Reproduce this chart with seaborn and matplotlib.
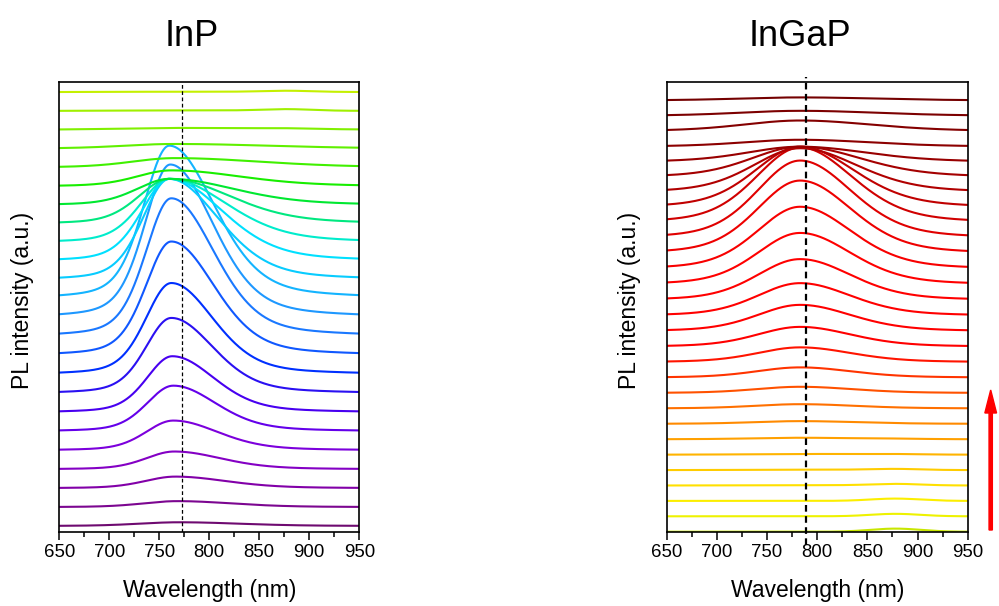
import numpy as np
import pandas as pd
import matplotlib
matplotlib.use("Agg")
import matplotlib.pyplot as plt
import seaborn as sns
from matplotlib.patches import FancyArrow
from matplotlib.transforms import IdentityTransform
from matplotlib.ticker import MultipleLocator

# ---------------------------------------------------------------
# Spectral grid (nm)
wavelength_nm = np.linspace(650, 950, 601)

# InP: 24 spectra, listed bottom to top (offset = index)
inp_amp = [0.20, 0.32, 0.62, 0.95, 1.59, 2.44, 3.00, 4.03, 4.88, 6.08, 7.37, 8.16,
           8.16, 5.40, 4.40, 3.40, 2.40, 1.40, 0.85, 0.50, 0.25, 0.10, 0.03, 0.02]
inp_center = [770, 768, 766, 765, 764, 764, 763, 762, 762, 762, 762, 761,
              760, 760, 760, 760, 760, 760, 762, 765, 765, 770, 770, 770]
inp_width_blue = [40, 34, 30, 28, 27, 26, 25, 25, 25, 25, 25, 25,
                  25, 26, 27, 28, 30, 32, 34, 42, 50, 60, 60, 60]
inp_width_red = [60, 54, 50, 46, 44, 42, 41, 41, 41, 42, 42, 42,
                 44, 48, 52, 56, 60, 64, 68, 85, 95, 95, 95, 95]
inp_side_amp = [0.00, 0.00, 0.00, 0.00, 0.00, 0.00, 0.00, 0.00, 0.00, 0.00, 0.00, 0.00,
                0.00, 0.00, 0.00, 0.00, 0.00, 0.00, 0.00, 0.00, 0.00, 0.03, 0.08, 0.06]
inp_colors = ['#6e0a70', '#7c0690', '#8200a8', '#8400c4', '#7c00dc', '#6400ea',
              '#4800f0', '#2a10f2', '#0030ff', '#1058ff', '#1a78ff', '#1e98ff',
              '#14b4ff', '#08ccff', '#00e0ff', '#00eccc', '#00e880', '#00e830',
              '#18ee00', '#40f000', '#60f000', '#80f000', '#a0f000', '#c4f000']

# InGaP: 29 spectra, listed bottom to top
ingap_amp = [0.00, 0.00, 0.00, 0.02, 0.03, 0.05, 0.10, 0.18, 0.28, 0.41, 0.67, 0.97,
             1.30, 1.73, 2.14, 2.70, 3.40, 4.10, 4.80, 5.10, 4.95, 4.00, 2.90, 2.00,
             1.00, 0.45, 0.70, 0.33, 0.20]
ingap_center = [783] * 29
ingap_width_blue = [48, 48, 48, 48, 48, 48, 47, 46, 45, 44, 43, 42,
                    42, 42, 42, 42, 42, 42, 42, 42, 43, 44, 46, 48,
                    52, 56, 56, 60, 60]
ingap_width_red = [60, 60, 60, 60, 60, 60, 58, 56, 54, 52, 50, 50,
                   50, 50, 50, 50, 50, 50, 50, 50, 51, 53, 56, 60,
                   65, 70, 70, 75, 75]
ingap_side_amp = [0.20, 0.16, 0.15, 0.10, 0.07, 0.03, 0.02, 0.00, 0.00, 0.00, 0.00, 0.00,
                  0.00, 0.00, 0.00, 0.00, 0.00, 0.00, 0.00, 0.00, 0.00, 0.00, 0.00, 0.00,
                  0.00, 0.00, 0.00, 0.00, 0.00]
ingap_colors = ['#c8e600', '#eef200', '#fcee00', '#ffe000', '#ffcc00', '#ffb400',
                '#ffa000', '#ff8a00', '#ff7000', '#ff5200', '#ff3400', '#ff1400',
                '#ff0000', '#ff0000', '#ff0000', '#ff0000', '#ff0000', '#f80000',
                '#ee0000', '#e00000', '#d00000', '#c00000', '#b00000', '#a40000',
                '#980000', '#8c0000', '#840000', '#7c0000', '#740000']

inp_marker_nm = 773
ingap_marker_nm = 789
side_band_nm = 878
side_band_width = 25


def band(x, amp, center, w_blue, w_red, eta=0.3):
    """Asymmetric pseudo-Voigt emission band (w = Gaussian sigma)."""
    w = np.where(x < center, w_blue, w_red)
    u = (x - center) / w
    gauss = np.exp(-0.5 * u ** 2)
    lorentz = 1.0 / (1.0 + 0.5 * u ** 2)
    return amp * ((1 - eta) * gauss + eta * lorentz)


def stack_frame(amp, center, wb, wr, side):
    rows = []
    for i in range(len(amp)):
        y = band(wavelength_nm, amp[i], center[i], wb[i], wr[i])
        y = y + side[i] * np.exp(-0.5 * ((wavelength_nm - side_band_nm) / side_band_width) ** 2)
        rows.append(pd.DataFrame({"wavelength": wavelength_nm,
                                  "intensity": i + y,
                                  "curve": i}))
    return pd.concat(rows, ignore_index=True)


inp_df = stack_frame(inp_amp, inp_center, inp_width_blue, inp_width_red, inp_side_amp)
ingap_df = stack_frame(ingap_amp, ingap_center, ingap_width_blue, ingap_width_red, ingap_side_amp)

# ---------------------------------------------------------------
sns.set_style("ticks")
plt.rcParams["font.family"] = ["Liberation Sans", "DejaVu Sans"]
plt.rcParams["text.color"] = "black"
plt.rcParams["axes.labelcolor"] = "black"
plt.rcParams["xtick.color"] = "black"
plt.rcParams["xtick.labelcolor"] = "black"

W, H = 999, 606
fig = plt.figure(figsize=(W / 100, H / 100), dpi=100)

ax_l = fig.add_axes([59.3 / W, 1 - 531.7 / H, 300 / W, 450 / H])
ax_r = fig.add_axes([666.7 / W, 1 - 531.7 / H, 301 / W, 450 / H])

sns.lineplot(data=inp_df, x="wavelength", y="intensity", hue="curve",
             palette=inp_colors, legend=False, estimator=None, sort=False,
             linewidth=1.5, ax=ax_l)
sns.lineplot(data=ingap_df, x="wavelength", y="intensity", hue="curve",
             palette=ingap_colors, legend=False, estimator=None, sort=False,
             linewidth=1.5, ax=ax_r)

ax_l.set_ylim(-0.30, 23.55)
ax_r.set_ylim(0.0, 29.22)

ax_l.axvline(inp_marker_nm, color="black", lw=0.9, ls=(0, (3, 2)), zorder=5)
ax_r.axvline(ingap_marker_nm, ymin=-0.03, ymax=1.011, color="black", lw=1.6,
             ls=(0, (3, 2)), clip_on=False, zorder=5)

for ax in (ax_l, ax_r):
    ax.set_xlim(650, 950)
    ax.xaxis.set_major_locator(MultipleLocator(50))
    ax.xaxis.set_minor_locator(MultipleLocator(25))
    ax.set_yticks([])
    ax.tick_params(axis="x", which="major", direction="out", length=6, width=1.1,
                   labelsize=13.4, pad=3, color="black", labelcolor="black")
    ax.tick_params(axis="x", which="minor", direction="out", length=3.5, width=1.1,
                   color="black")
    for s in ax.spines.values():
        s.set_visible(True)
        s.set_linewidth(1.2)
        s.set_color("black")
    ax.set_xlabel("Wavelength (nm)", fontsize=16.5, color="black")
    ax.set_ylabel("PL intensity (a.u.)", fontsize=16.5, color="black")
    ax.xaxis.label.set_va("center")
    ax.yaxis.label.set_va("center")
    ax.xaxis.set_label_coords(0.5, -0.13)
    ax.yaxis.set_label_coords(-0.123, 0.513)

fig.text(192 / W, 1 - 46 / H, "InP", ha="center", va="baseline", fontsize=26,
         color="black")
fig.text(800 / W, 1 - 46 / H, "InGaP", ha="center", va="baseline", fontsize=26,
         color="black")

# Red arrow indicating the stacking direction
fig.add_artist(FancyArrow(990.7, H - 530, 0, 140, width=3.3, head_width=11.7,
                          head_length=23, length_includes_head=True,
                          color="red", transform=IdentityTransform()))

fig.savefig("out.png", dpi=100)
